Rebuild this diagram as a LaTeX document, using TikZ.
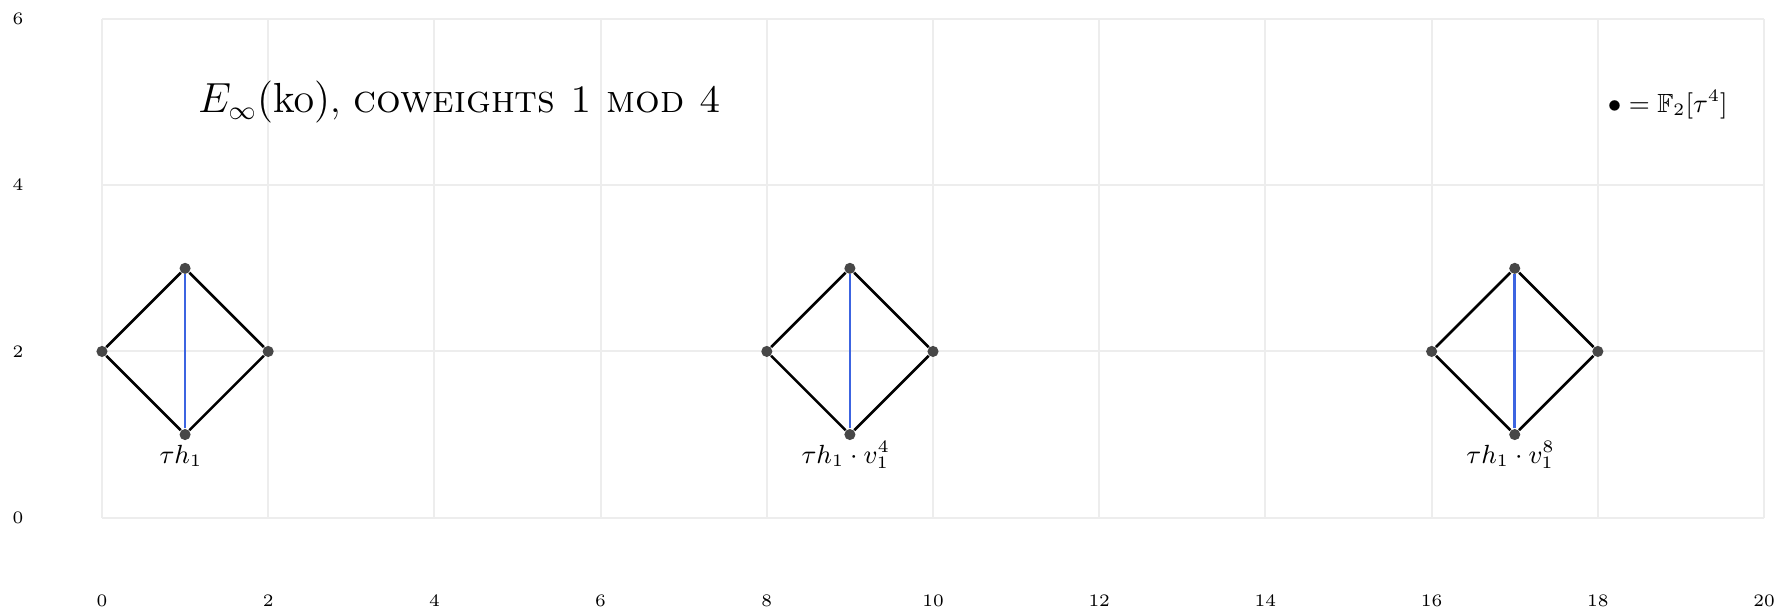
\documentclass[tikz,border=0pt]{standalone}
\usepackage{amsmath,amssymb}
\begin{document}
\begin{tikzpicture}[x=1cm,y=1cm,
  gridline/.style={draw=black!7, line width=0.7pt},
  dot/.style={circle, fill=black!72, inner sep=0pt, minimum size=3.8pt},
  edge/.style={draw=black, line width=0.9pt},
  bluedge/.style={draw={rgb,255:red,60;green,100;blue,225}, line width=0.9pt},
  axlabel/.style={font=\fontsize{6}{7}\selectfont, inner sep=0pt},
  lbl/.style={font=\fontsize{9}{11}\selectfont, inner sep=1pt}]
\useasboundingbox (-1.227,-1.131) rectangle (20.156,6.229);
% grid
\foreach \x in {0,2,...,20} \draw[gridline] (\x,0) -- (\x,6);
\foreach \y in {0,2,4,6} \draw[gridline] (0,\y) -- (20,\y);
% axis labels
\foreach \x in {0,2,...,20} \node[axlabel] (xl\x) at (\x,-1) {$\x$};
\foreach \y in {0,2,4,6} \node[axlabel] (yl\y) at (-1.01,\y) {$\y$};
% title and legend
\node[anchor=base west, inner sep=0pt, font=\fontsize{13.3}{15}\selectfont] (title) at (1.15,4.87)
  {$E_\infty(\mathrm{ko})$, \textsc{coweights 1 mod 4}};
\node[anchor=base east, inner sep=0pt, font=\fontsize{9}{11}\selectfont] (legend) at (19.57,4.87) {$\bullet=\mathbb{F}_2[\tau^4]$};
% diamonds
\foreach \i/\x in {a/0,b/8,c/16}{
  \node[dot] (\i l) at (\x,2) {};
  \node[dot] (\i t) at (\x+1,3) {};
  \node[dot] (\i r) at (\x+2,2) {};
  \node[dot] (\i b) at (\x+1,1) {};
  \draw[edge] (\i l) -- (\i t) -- (\i r) -- (\i b) -- (\i l);
  \draw[bluedge] (\i b) -- (\i t);
}
\node[lbl, anchor=base] (la) at ([xshift=-0.05cm]ab.center |- 0,0.65) {$\tau h_1$};
\node[lbl, anchor=base] (lb) at ([xshift=-0.05cm]bb.center |- 0,0.65) {$\tau h_1\cdot v_1^4$};
\node[lbl, anchor=base] (lc) at ([xshift=-0.05cm]cb.center |- 0,0.65) {$\tau h_1\cdot v_1^8$};
\end{tikzpicture}
\end{document}
